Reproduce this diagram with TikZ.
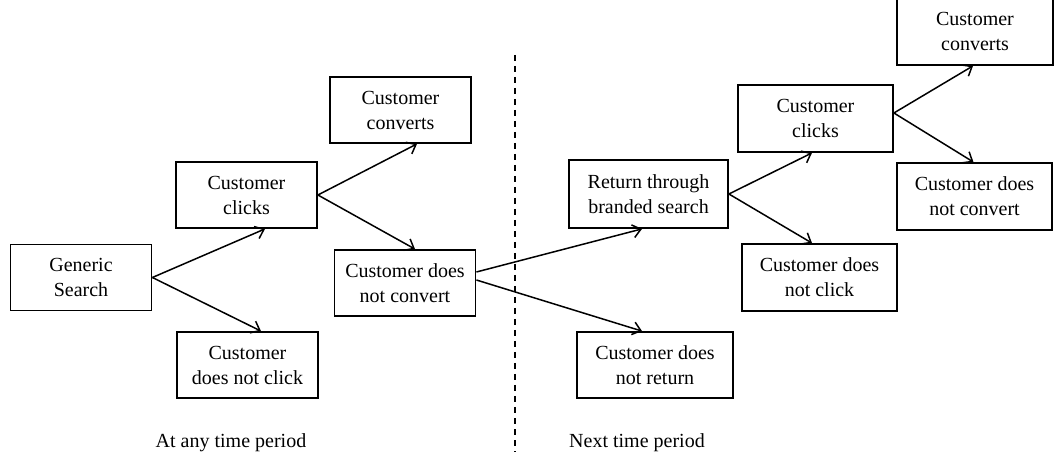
\documentclass[tikz,border=0pt]{standalone}
\usepackage{fontspec}
\setmainfont{Liberation Serif}
\usetikzlibrary{arrows.meta, positioning}
\tikzstyle{stage} = [draw, line width=0.9pt, minimum width=70.5pt, minimum height=33pt,
                     inner sep=2pt, align=center, font=\fontsize{10}{12.5}\selectfont]
\tikzstyle{flow} = [-{Straight Barb[length=4pt, width=6.5pt]}, line width=0.75pt]
\tikzstyle{period} = [font=\fontsize{10}{12.5}\selectfont]

\begin{document}
\begin{tikzpicture}[x=0.5pt, y=-0.5pt]
    \useasboundingbox (0,0) rectangle (1054,459);
    % first period
    \node[stage] (generic) at (81, 277.5) {Generic\\Search};
    \node[stage] (clickA) at (246.5, 195) {Customer\\clicks};
    \node[stage] (noclickA) at (247.5, 365) {Customer\\does not click};
    \node[stage] (convA) at (400.5, 110) {Customer\\converts};
    \node[stage] (noconvA) at (405, 283) {Customer does\\not convert};
    \draw[flow] (generic.east) -- ([xshift=9.25pt]clickA.south);
    \draw[flow] (generic.east) -- ([xshift=6.75pt]noclickA.north);
    \draw[flow] (clickA.east) -- ([xshift=8.25pt]convA.south);
    \draw[flow] (clickA.east) -- ([xshift=5pt]noconvA.north);
    % split between the two periods
    \coordinate (splittop) at (515, 55);
    \coordinate (splitbot) at (515, 452);
    \draw[dash pattern=on 3pt off 2.5pt, line width=0.75pt] (splittop) -- (splitbot);
    % next period
    \node[stage, minimum width=79.5pt, minimum height=34pt] (branded) at (648.5, 194) {Return through\\branded search};
    \node[stage, minimum width=78pt] (noreturn) at (655, 365) {Customer does\\not return};
    \node[stage, minimum width=77.5pt, minimum height=33.5pt] (clickB) at (815.5, 118.5) {Customer\\clicks};
    \node[stage, minimum width=77.5pt, minimum height=33.5pt] (noclickB) at (819.5, 277.5) {Customer does\\not click};
    \node[stage, minimum width=78pt, minimum height=34pt] (convB) at (975, 31) {Customer\\converts};
    \node[stage, minimum width=77.5pt, minimum height=33.5pt] (noconvB) at (974.5, 196.5) {Customer does\\not convert};
    \draw[flow] ([yshift=5.5pt]noconvA.east) -- ([xshift=-3.25pt]branded.south);
    \draw[flow] ([yshift=1.5pt]noconvA.east) -- ([xshift=-6.5pt]noreturn.north);
    \draw[flow] (branded.east) -- ([xshift=-1.75pt]clickB.south);
    \draw[flow] (branded.east) -- ([xshift=-3.75pt]noclickB.north);
    \draw[flow] ([yshift=2.75pt]clickB.east) -- ([xshift=-1pt]convB.south);
    \draw[flow] ([yshift=2.75pt]clickB.east) -- ([xshift=-0.5pt]noconvB.north);
    % period captions
    \node[period] (nowlabel) at (231, 443) {At any time period};
    \node[period] (nextlabel) at (637, 443) {Next time period};
\end{tikzpicture}
\end{document}
